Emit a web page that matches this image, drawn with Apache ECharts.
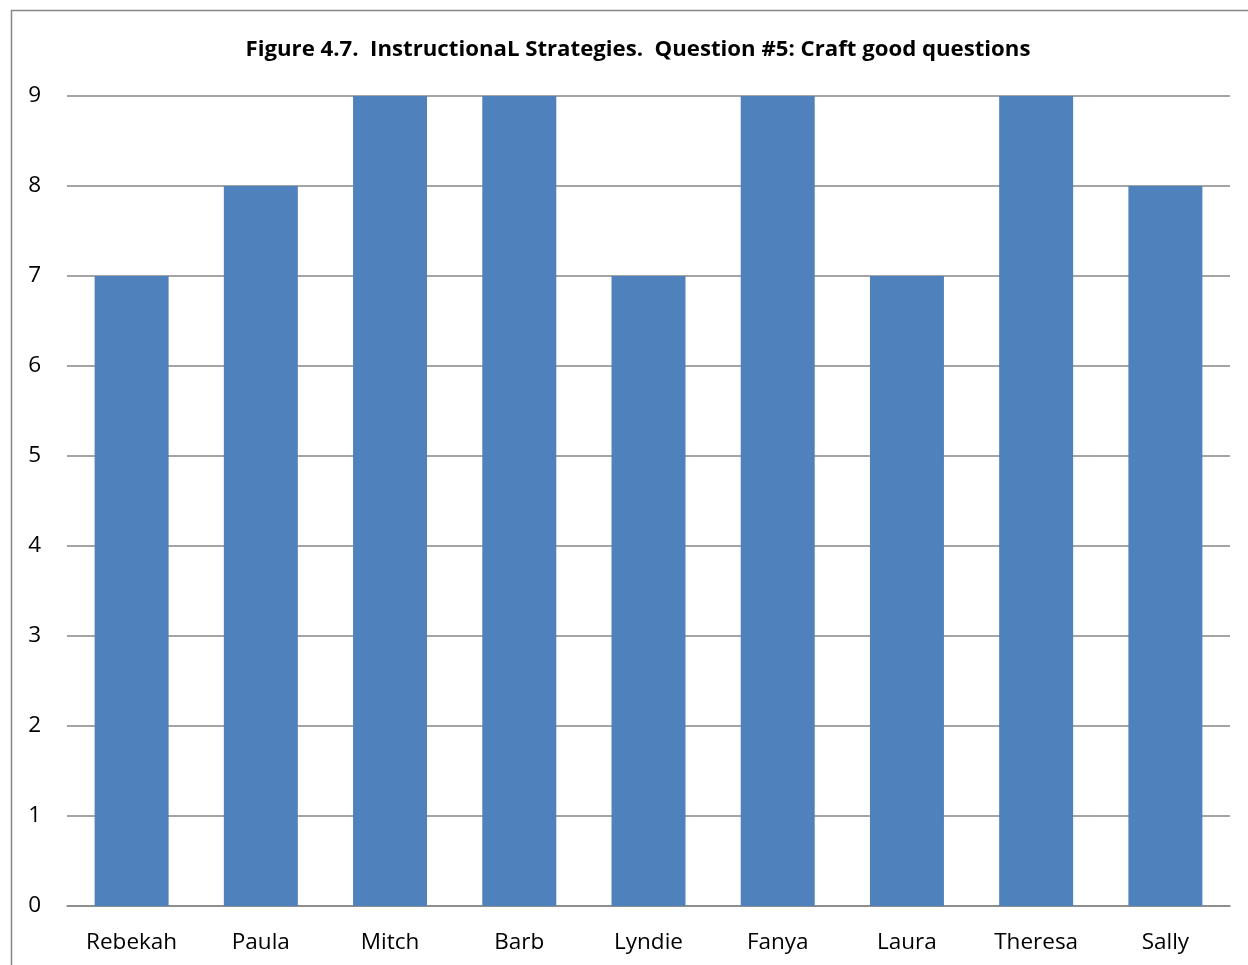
<!DOCTYPE html>
<html>
<head>
<meta charset="utf-8">
<script src="https://cdn.jsdelivr.net/npm/echarts@6/dist/echarts.min.js"></script>
<style>
  html, body { margin: 0; padding: 0; background: #fff; }
  #chart { width: 1248px; height: 965px; }
</style>
</head>
<body>
<div id="chart"></div>
<script>
// Scores per participant for question #5
const names = ['Rebekah', 'Paula', 'Mitch', 'Barb', 'Lyndie', 'Fanya', 'Laura', 'Theresa', 'Sally'];
const scores = [7, 8, 9, 9, 7, 9, 7, 9, 8];
const chartTitle = 'Figure 4.7.  InstructionaL Strategies.  Question #5: Craft good questions';

const font = '"Open Sans", "Noto Sans", sans-serif';
const chart = echarts.init(document.getElementById('chart'), null, { renderer: 'canvas' });

chart.setOption({
  animation: false,
  backgroundColor: '#fff',
  title: {
    text: chartTitle,
    left: 633,
    textAlign: 'center',
    top: 34,
    textStyle: { fontFamily: font, fontWeight: 'bold', fontSize: 22.2, color: '#000' }
  },
  graphic: [{
    type: 'rect',
    shape: { x: 11.5, y: 10.5, width: 1260, height: 1000 },
    style: { fill: 'none', stroke: '#868686', lineWidth: 1.5 },
    silent: true
  }],
  grid: { left: 67, right: 18, top: 96, bottom: 59 },
  xAxis: {
    type: 'category',
    data: names,
    axisLine: { show: true, lineStyle: { color: '#868686', width: 1.5 } },
    axisTick: { show: false },
    axisLabel: { fontFamily: font, fontSize: 22.5, color: '#000', margin: 25 }
  },
  yAxis: {
    type: 'value',
    min: 0, max: 9, interval: 1,
    axisLine: { show: false },
    axisTick: { show: false },
    axisLabel: { fontFamily: font, fontSize: 22.5, color: '#000', margin: 26 },
    splitLine: { lineStyle: { color: '#868686', width: 1.5 } }
  },
  series: [{
    type: 'bar',
    data: scores,
    barWidth: 74,
    itemStyle: { color: '#4F81BD' }
  }]
});
</script>
</body>
</html>
